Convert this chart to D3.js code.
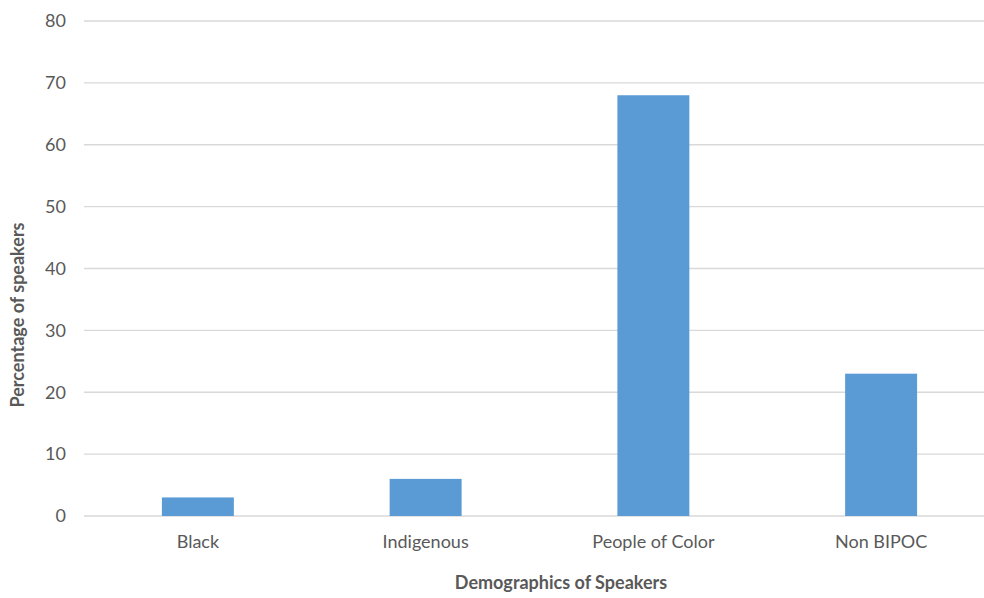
<!DOCTYPE html>
<html><head><meta charset="utf-8">
<script src="https://cdn.jsdelivr.net/npm/d3@7"></script>
<style>body{margin:0;background:#fff;} svg{display:block;}</style>
</head><body><svg id="c" width="984" height="598"></svg>
<script>
const categories = ["Black", "Indigenous", "People of Color", "Non BIPOC"];
const values = [3, 6, 68, 23];
const yTicks = [0, 10, 20, 30, 40, 50, 60, 70, 80];
const xTitle = "Demographics of Speakers";
const yTitle = "Percentage of speakers";

const svg = d3.select("#c");
const font = "Lato, 'Open Sans', sans-serif";
const txt = "#595959";
const x = d3.scaleBand().domain(categories).range([84, 995]).paddingInner(0.684).paddingOuter(0.342);
const y = d3.scaleLinear().domain([0, 80]).range([516, 21]);

// gridlines
svg.append("g").selectAll("line").data(yTicks).join("line")
  .attr("x1", 84).attr("x2", 984)
  .attr("y1", d => y(d)).attr("y2", d => y(d))
  .attr("stroke", "#d9d9d9").attr("stroke-width", 1.3);

// y axis labels
const yAxis = svg.append("g").attr("transform", "translate(70,0)")
  .call(d3.axisLeft(y).tickValues(yTicks).tickSize(0).tickPadding(4));
yAxis.select(".domain").remove();
yAxis.selectAll("text").attr("fill", txt).style("font-family", font).style("font-size", "18px");

// bars
svg.append("g").selectAll("rect").data(values).join("rect")
  .attr("x", (d, i) => x(categories[i]))
  .attr("width", x.bandwidth())
  .attr("y", d => y(d))
  .attr("height", d => y(0) - y(d))
  .attr("fill", "#5B9BD5");

// x axis labels
const xAxis = svg.append("g").attr("transform", "translate(0,516)")
  .call(d3.axisBottom(x).tickSize(0).tickPadding(19));
xAxis.select(".domain").remove();
xAxis.selectAll("text").attr("fill", txt).style("font-family", font).style("font-size", "18px");

// titles
svg.append("text").attr("x", 561).attr("y", 589).attr("text-anchor", "middle")
  .attr("fill", txt).style("font-family", font).style("font-size", "18px").style("font-weight", "bold")
  .text(xTitle);
svg.append("text").attr("transform", "translate(24,315) rotate(-90)").attr("text-anchor", "middle")
  .attr("fill", txt).style("font-family", font).style("font-size", "18px").style("font-weight", "bold")
  .text(yTitle);
</script></body></html>
